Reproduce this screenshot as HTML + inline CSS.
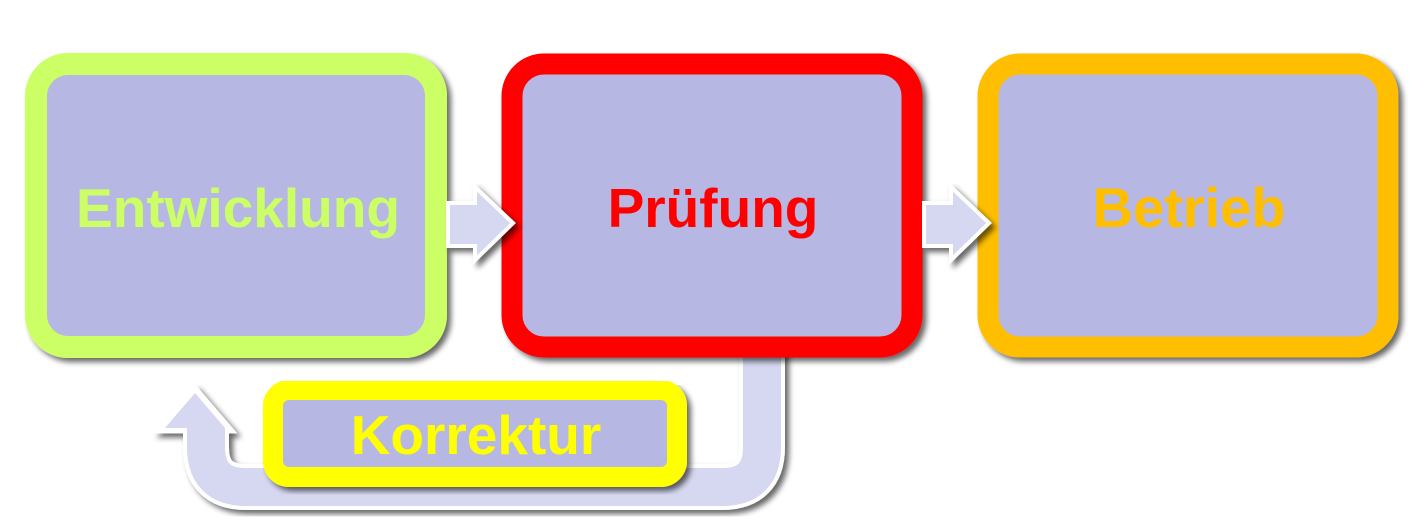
<!DOCTYPE html>
<html><head><meta charset="utf-8"><style>
html,body{margin:0;padding:0;background:#fff;}
svg{display:block;}
text{font-family:"Liberation Sans","DejaVu Sans",sans-serif;font-weight:bold;}
</style></head><body>
<svg width="1425" height="530" viewBox="0 0 1425 530" xmlns="http://www.w3.org/2000/svg">
<defs>
<filter id="sh" x="-10%" y="-10%" width="130%" height="130%">
<feGaussianBlur in="SourceAlpha" stdDeviation="3"/>
<feOffset dx="4" dy="4"/>
<feComponentTransfer><feFuncA type="linear" slope="0.6"/></feComponentTransfer>
<feMerge><feMergeNode/><feMergeNode in="SourceGraphic"/></feMerge>
</filter>
</defs>
<g filter="url(#sh)">
<path d="M762 340 L762 447 Q762 487 722 487 L246 487 Q206 487 206 447 L206 428" fill="none" stroke="#fff" stroke-width="46"/>
<polygon points="158,431 195,388 232,431" fill="#fff" stroke="#fff" stroke-width="5" stroke-linejoin="miter"/>
</g>
<path d="M762 340 L762 447 Q762 487 722 487 L246 487 Q206 487 206 447 L206 428" fill="none" stroke="#d6d7f0" stroke-width="38"/>
<polygon points="165,428 195,393 225,428" fill="#d6d7f0"/>
<g filter="url(#sh)">
<rect x="36" y="64" width="400" height="283" rx="32" fill="#b6b8e3" stroke="#ccff66" stroke-width="22"/>
<rect x="512" y="64" width="400" height="283" rx="32" fill="#b6b8e3" stroke="#ff0000" stroke-width="21"/>
<rect x="988" y="64" width="400" height="283" rx="32" fill="#b6b8e3" stroke="#ffbf00" stroke-width="21"/>
</g>
<g filter="url(#sh)">
<polygon points="448,203 475,203 475,187 513,223 475,260 475,246 448,246" fill="#d6d7f0" stroke="#fff" stroke-width="4"/>
<polygon points="924,203 951,203 951,187 989,223 951,260 951,246 924,246" fill="#d6d7f0" stroke="#fff" stroke-width="4"/>
</g>
<g filter="url(#sh)">
<rect x="273" y="390" width="404" height="87" rx="16" fill="#b6b8e3" stroke="#ffff00" stroke-width="20"/>
</g>
<text x="238" y="227" font-size="55" fill="#ccff66" text-anchor="middle">Entwicklung</text>
<text x="713" y="227" font-size="55" fill="#ff0000" text-anchor="middle">Prüfung</text>
<text x="1189" y="227" font-size="56" fill="#ffbf00" text-anchor="middle">Betrieb</text>
<text x="476" y="454" font-size="55" fill="#ffff00" text-anchor="middle">Korrektur</text>
</svg>
</body></html>
